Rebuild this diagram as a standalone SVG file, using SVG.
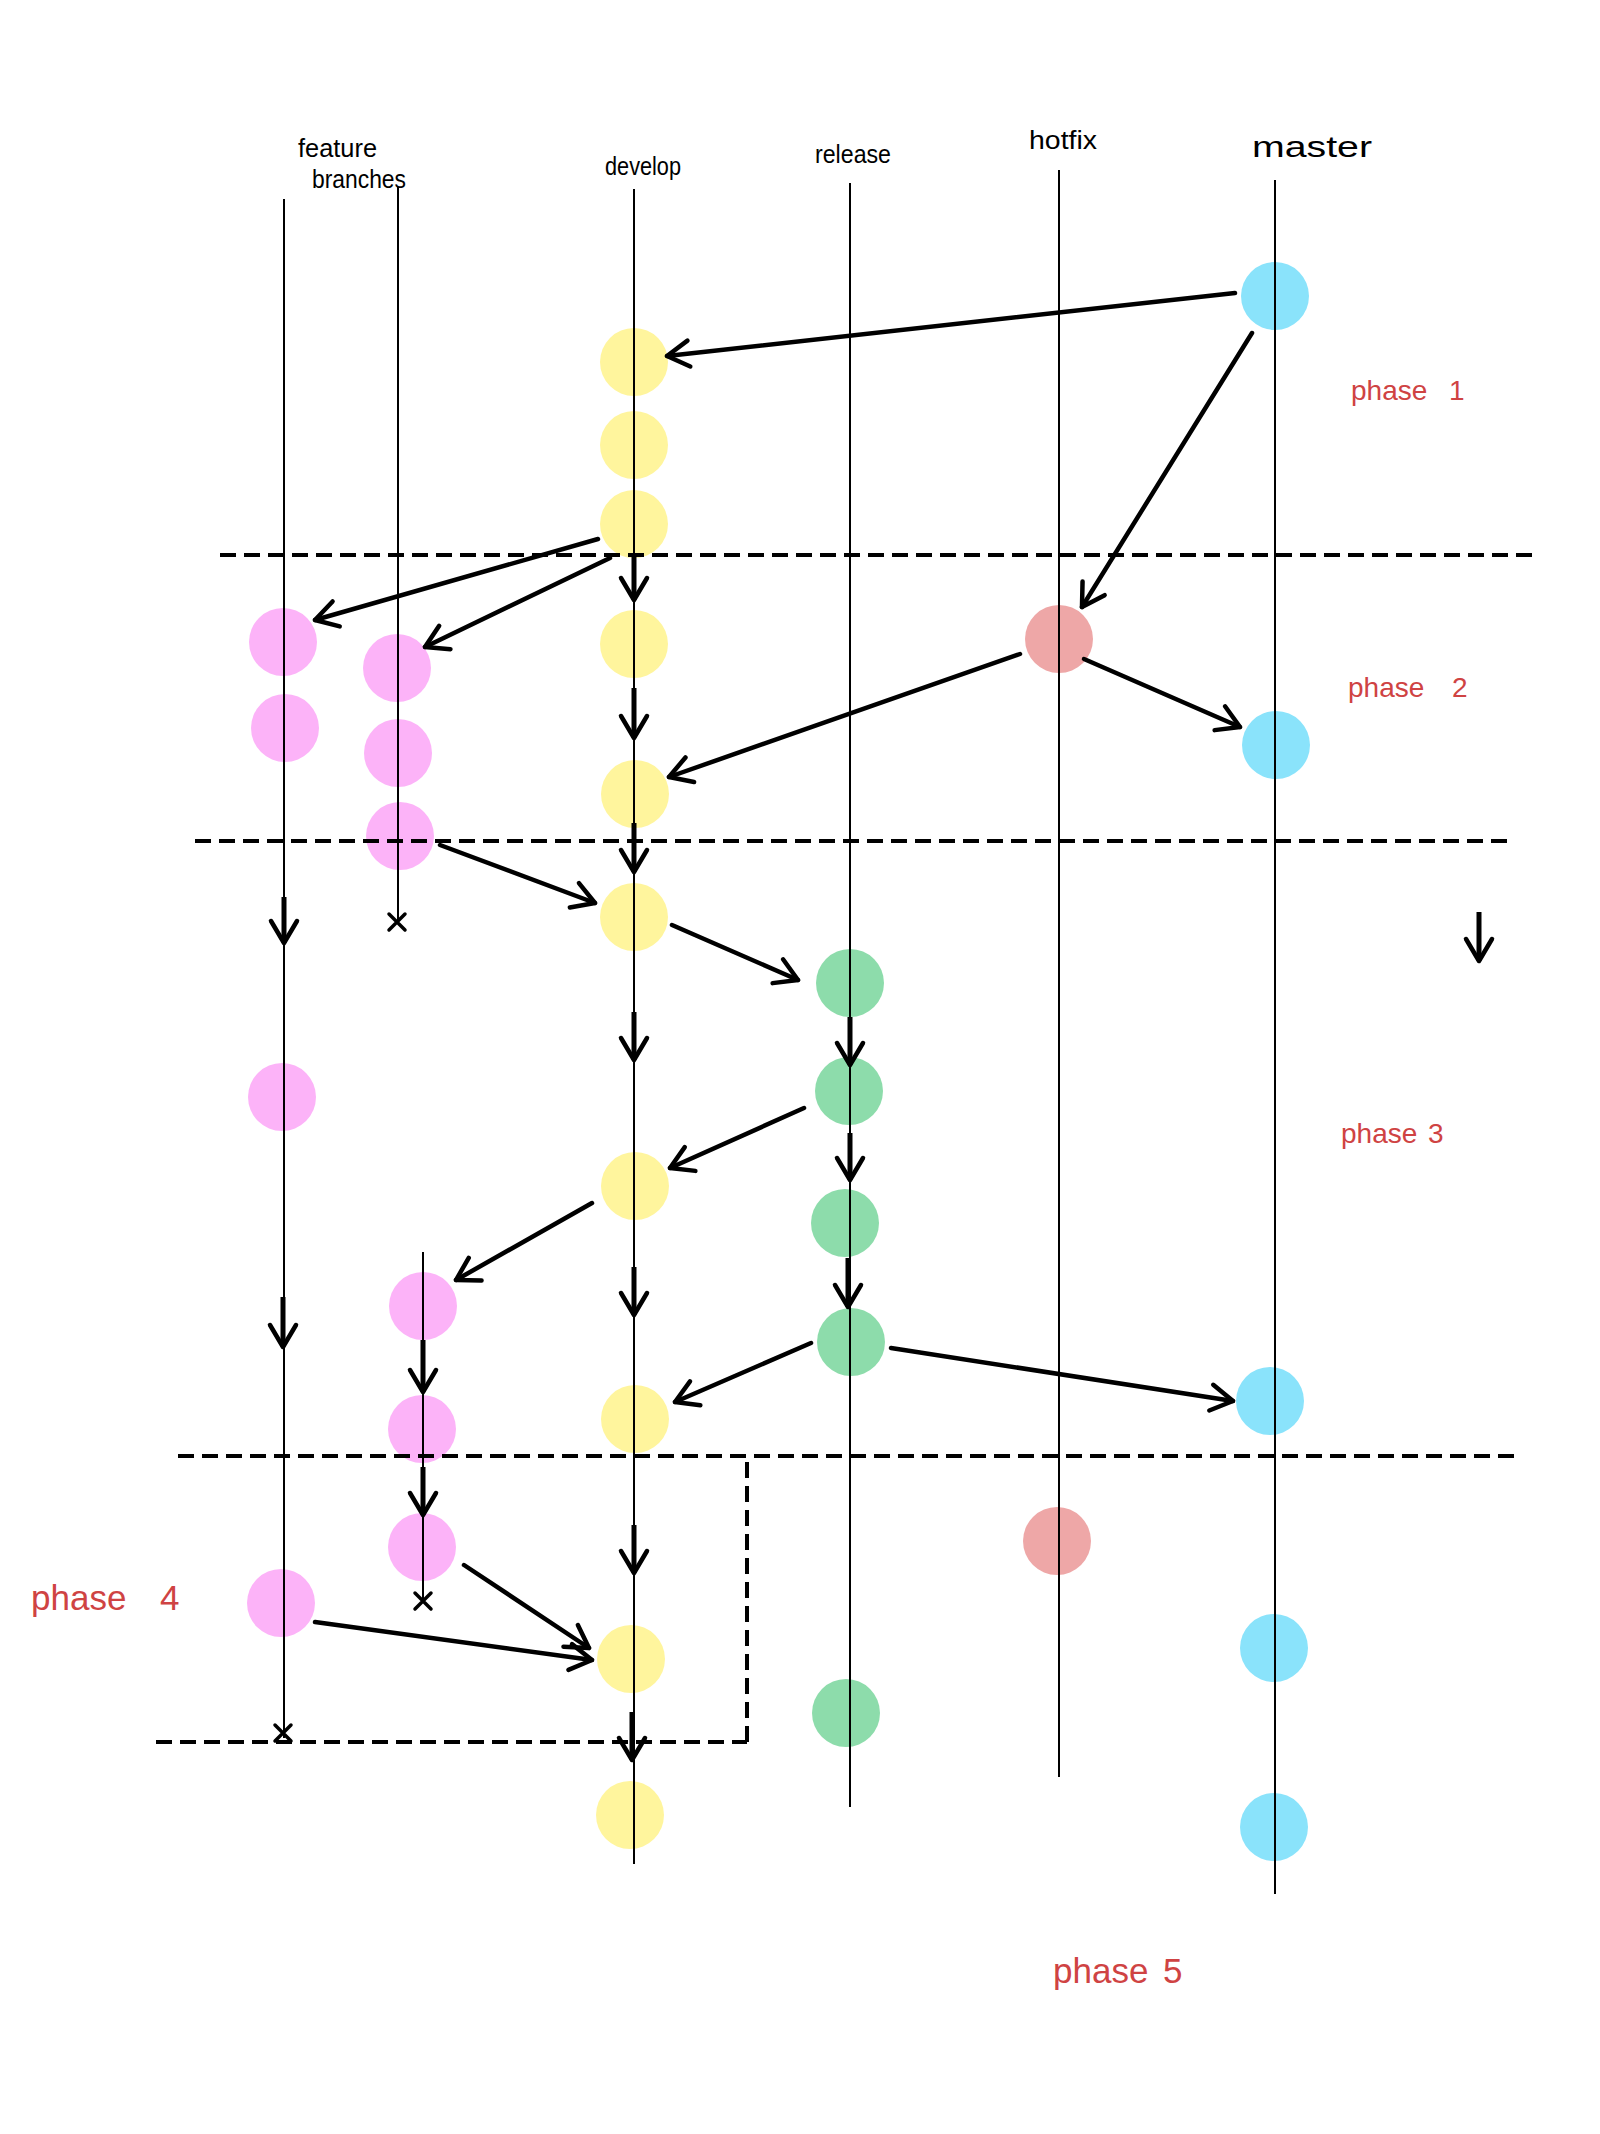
<svg xmlns="http://www.w3.org/2000/svg" width="1600" height="2134" viewBox="0 0 1600 2134">
<style>
.bg{fill:#ffffff}
.lane{stroke:#000;stroke-width:2;fill:none}
.dash{stroke:#000;stroke-width:4;stroke-dasharray:16 8;fill:none}
.arr{stroke:#000;stroke-width:4.5;fill:none;stroke-linecap:round;marker-end:url(#v)}
.down{stroke:#000;stroke-width:5;fill:none;stroke-linecap:butt;marker-end:url(#v)}
.x{stroke:#000;stroke-width:3.5;stroke-linecap:round}
.y{fill:#fff59d}
.p{fill:#fcb3f8}
.g{fill:#8ddcab}
.b{fill:#8ae3fb}
.r{fill:#eea7a7}
.lbl{font-family:"Liberation Sans",Arial,sans-serif;font-size:25px;fill:#000}
.ph{font-family:"Liberation Sans",Arial,sans-serif;font-size:28px;fill:#cf4343}
.big{font-size:35px}
.mst{font-size:29px}
</style>
<defs>
<marker id="v" markerUnits="userSpaceOnUse" viewBox="-30 -20 34 40" refX="0" refY="0" markerWidth="34" markerHeight="40" orient="auto">
<path d="M-22,-13 L0,0 L-22,13" fill="none" stroke="#000" stroke-width="4.5" stroke-linecap="round" stroke-linejoin="round"/>
</marker>
</defs>
<rect class="bg" x="0" y="0" width="1600" height="2134"/>

<g id="labels">
<text class="lbl" x="298" y="157" textLength="79" lengthAdjust="spacingAndGlyphs">feature</text>
<text class="lbl" x="312" y="188" textLength="94" lengthAdjust="spacingAndGlyphs">branches</text>
<text class="lbl" x="605" y="175" textLength="76" lengthAdjust="spacingAndGlyphs">develop</text>
<text class="lbl" x="815" y="163" textLength="76" lengthAdjust="spacingAndGlyphs">release</text>
<text class="lbl" x="1029" y="149" textLength="68" lengthAdjust="spacingAndGlyphs">hotfix</text>
<text class="lbl mst" x="1252" y="157" textLength="120" lengthAdjust="spacingAndGlyphs">master</text>
</g>

<g id="phases">
<text id="phase1" class="ph" x="1351" y="400">phase <tspan x="1449">1</tspan></text>
<text id="phase2" class="ph" x="1348" y="697">phase <tspan x="1452">2</tspan></text>
<text id="phase3" class="ph" x="1341" y="1143">phase <tspan x="1428">3</tspan></text>
<text id="phase4" class="ph big" x="31" y="1610">phase <tspan x="160">4</tspan></text>
<text id="phase5" class="ph big" x="1053" y="1983">phase <tspan x="1163">5</tspan></text>
</g>

<g id="nodes">
<g id="master1"><circle class="b" cx="1275" cy="296" r="34"/></g>
<g id="master2"><circle class="b" cx="1276" cy="745" r="34"/></g>
<g id="master3"><circle class="b" cx="1270" cy="1401" r="34"/></g>
<g id="master4"><circle class="b" cx="1274" cy="1648" r="34"/></g>
<g id="master5"><circle class="b" cx="1274" cy="1827" r="34"/></g>

<g id="dev1"><circle class="y" cx="634" cy="362" r="34"/></g>
<g id="dev2"><circle class="y" cx="634" cy="445" r="34"/></g>
<g id="dev3"><circle class="y" cx="634" cy="524" r="34"/></g>
<g id="dev4"><circle class="y" cx="634" cy="644" r="34"/></g>
<g id="dev5"><circle class="y" cx="635" cy="794" r="34"/></g>
<g id="dev6"><circle class="y" cx="634" cy="917" r="34"/></g>
<g id="dev7"><circle class="y" cx="635" cy="1186" r="34"/></g>
<g id="dev8"><circle class="y" cx="635" cy="1419" r="34"/></g>
<g id="dev9"><circle class="y" cx="631" cy="1659" r="34"/></g>
<g id="dev10"><circle class="y" cx="630" cy="1815" r="34"/></g>

<g id="feat1"><circle class="p" cx="283" cy="642" r="34"/></g>
<g id="feat2"><circle class="p" cx="285" cy="728" r="34"/></g>
<g id="feat3"><circle class="p" cx="397" cy="668" r="34"/></g>
<g id="feat4"><circle class="p" cx="398" cy="753" r="34"/></g>
<g id="feat5"><circle class="p" cx="400" cy="836" r="34"/></g>
<g id="feat6"><circle class="p" cx="282" cy="1097" r="34"/></g>
<g id="feat7"><circle class="p" cx="423" cy="1306" r="34"/></g>
<g id="feat8"><circle class="p" cx="422" cy="1429" r="34"/></g>
<g id="feat9"><circle class="p" cx="422" cy="1547" r="34"/></g>
<g id="feat10"><circle class="p" cx="281" cy="1603" r="34"/></g>

<g id="rel1"><circle class="g" cx="850" cy="983" r="34"/></g>
<g id="rel2"><circle class="g" cx="849" cy="1091" r="34"/></g>
<g id="rel3"><circle class="g" cx="845" cy="1223" r="34"/></g>
<g id="rel4"><circle class="g" cx="851" cy="1342" r="34"/></g>
<g id="rel5"><circle class="g" cx="846" cy="1713" r="34"/></g>

<g id="hot1"><circle class="r" cx="1059" cy="639" r="34"/></g>
<g id="hot2"><circle class="r" cx="1057" cy="1541" r="34"/></g>
</g>

<g id="lanes">
<line class="lane" x1="284" y1="199" x2="284" y2="1738"/>
<line class="lane" x1="398" y1="187" x2="398" y2="920"/>
<line class="lane" x1="423" y1="1252" x2="423" y2="1600"/>
<line class="lane" x1="634" y1="189" x2="634" y2="1864"/>
<line class="lane" x1="850" y1="183" x2="850" y2="1807"/>
<line class="lane" x1="1059" y1="170" x2="1059" y2="1777"/>
<line class="lane" x1="1275" y1="180" x2="1275" y2="1894"/>
</g>

<g id="phase-bounds">
<line class="dash" x1="220" y1="555" x2="1537" y2="555"/>
<line class="dash" x1="195" y1="841" x2="1510" y2="841"/>
<line class="dash" x1="178" y1="1456" x2="1514" y2="1456"/>
<line class="dash" x1="156" y1="1742" x2="747" y2="1742"/>
<line class="dash" x1="747" y1="1462" x2="747" y2="1742"/>
</g>

<g id="connectors">
<line class="arr" x1="1235" y1="293" x2="667" y2="356"/>
<line class="arr" x1="1252" y1="333" x2="1082" y2="607"/>
<line class="arr" x1="598" y1="539" x2="315" y2="620"/>
<line class="arr" x1="610" y1="558" x2="425" y2="647"/>
<line class="down" x1="634" y1="553" x2="634" y2="600"/>
<line class="arr" x1="1020" y1="654" x2="669" y2="777"/>
<line class="arr" x1="1084" y1="659" x2="1240" y2="727"/>
<line class="down" x1="634" y1="688" x2="634" y2="738"/>
<line class="down" x1="634" y1="823" x2="634" y2="872"/>
<line class="arr" x1="440" y1="845" x2="595" y2="903"/>
<line class="down" x1="284" y1="897" x2="284" y2="943"/>
<line class="arr" x1="672" y1="925" x2="798" y2="980"/>
<line class="down" x1="634" y1="1012" x2="634" y2="1060"/>
<line class="down" x1="850" y1="1017" x2="850" y2="1065"/>
<line class="down" x1="1479" y1="912" x2="1479" y2="961"/>
<line class="arr" x1="804" y1="1108" x2="670" y2="1168"/>
<line class="down" x1="850" y1="1133" x2="850" y2="1180"/>
<line class="arr" x1="592" y1="1203" x2="456" y2="1280"/>
<line class="down" x1="848" y1="1258" x2="848" y2="1307"/>
<line class="down" x1="634" y1="1267" x2="634" y2="1315"/>
<line class="down" x1="283" y1="1297" x2="283" y2="1347"/>
<line class="down" x1="423" y1="1340" x2="423" y2="1392"/>
<line class="arr" x1="811" y1="1343" x2="675" y2="1402"/>
<line class="arr" x1="891" y1="1348" x2="1233" y2="1401"/>
<line class="down" x1="423" y1="1467" x2="423" y2="1515"/>
<line class="down" x1="634" y1="1525" x2="634" y2="1573"/>
<line class="arr" x1="464" y1="1565" x2="589" y2="1648"/>
<line class="arr" x1="315" y1="1622" x2="592" y2="1660"/>
<line class="down" x1="632" y1="1712" x2="632" y2="1760"/>
</g>

<g id="branch-ends">
<path class="x" d="M389,914 L405,930 M405,914 L389,930"/>
<path class="x" d="M415,1593 L431,1609 M431,1593 L415,1609"/>
<path class="x" d="M275,1725 L291,1741 M291,1725 L275,1741"/>
</g>
</svg>
